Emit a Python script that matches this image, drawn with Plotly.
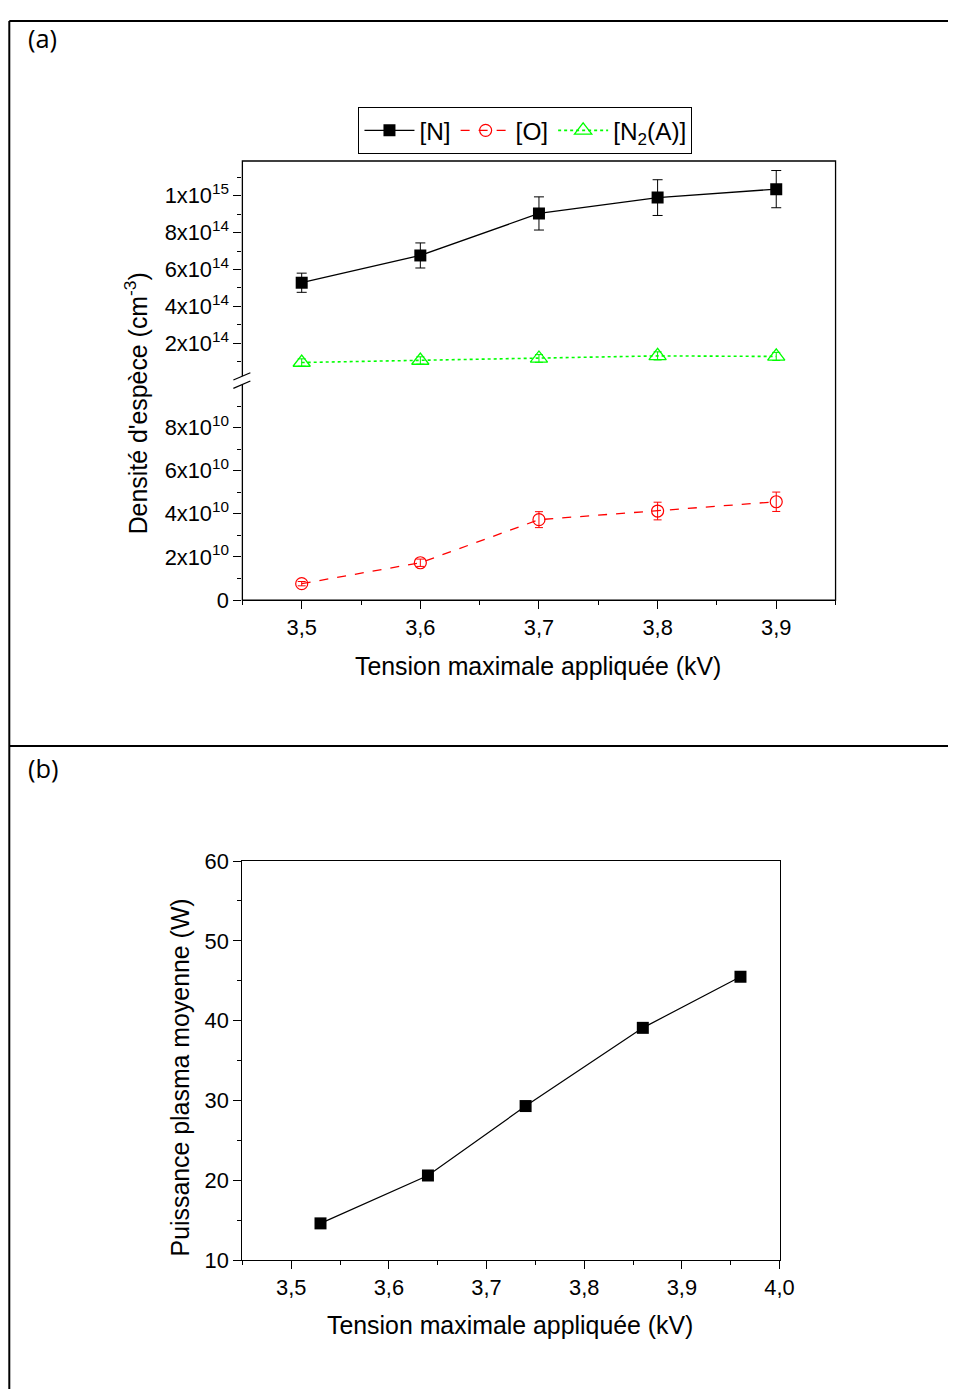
import plotly.graph_objects as go

# ---------------- data ----------------
voltage_a = [3.5, 3.6, 3.7, 3.8, 3.9]
dens_N = [5.28e14, 6.76e14, 9.04e14, 9.90e14, 1.036e15]
err_N = [0.52e14, 0.68e14, 0.90e14, 0.97e14, 1.01e14]
dens_O = [0.76e10, 1.73e10, 3.73e10, 4.13e10, 4.56e10]
err_O = [0.10e10, 0.17e10, 0.37e10, 0.41e10, 0.45e10]
dens_N2A = [0.95e14, 1.06e14, 1.17e14, 1.31e14, 1.28e14]
err_N2A = [0.20e14, 0.20e14, 0.21e14, 0.22e14, 0.22e14]

voltage_b = [3.53, 3.64, 3.74, 3.86, 3.96]
power_b = [14.6, 20.6, 29.3, 39.1, 45.5]

low_tickvals = [0, 2e10, 4e10, 6e10, 8e10]
low_ticktext = ["0", "2x10<sup>10</sup>", "4x10<sup>10</sup>", "6x10<sup>10</sup>", "8x10<sup>10</sup>"]
up_tickvals = [2e14, 4e14, 6e14, 8e14, 1e15]
up_ticktext = ["2x10<sup>14</sup>", "4x10<sup>14</sup>", "6x10<sup>14</sup>", "8x10<sup>14</sup>", "1x10<sup>15</sup>"]

# ---------------- geometry ----------------
W, H = 956, 1394
FONT = "Liberation Sans, Arial, sans-serif"

# page rendering offset/scale compensation (reference px -> figure px)
SX, SY, OX, OY = 0.984, 0.982, 7.7, 20.0


def px(X):
    return min(max((X - OX) / SX, 0), W) / W


def py(Y):
    return 1 - min(max((Y - OY) / SY, 0), H) / H


def fs(size):
    return size / SX


ax_l, ax_r = 242, 835          # panel (a) plot box (reference px)
a_top, a_brk, a_bot = 161, 380, 600
bx_l, bx_r = 242, 779          # panel (b) plot box
b_top, b_bot = 861, 1260

fig = go.Figure()

fig.add_trace(go.Scatter(
    x=voltage_a, y=dens_N, name="[N]", xaxis="x", yaxis="y2",
    mode="lines+markers",
    line=dict(color="black", width=1.3),
    marker=dict(symbol="square", size=12, color="black"),
    error_y=dict(type="data", array=err_N, color="black", thickness=1, width=5),
))
fig.add_trace(go.Scatter(
    x=voltage_a, y=dens_O, name="[O]", xaxis="x", yaxis="y",
    mode="lines+markers",
    line=dict(color="#ff0000", width=1.3, dash="dash"),
    marker=dict(symbol="circle-open", size=12, color="#ff0000", line=dict(width=1.2)),
    error_y=dict(type="data", array=err_O, color="#ff0000", thickness=1, width=4),
))
fig.add_trace(go.Scatter(
    x=voltage_a, y=dens_N2A, name="[N<sub>2</sub>(A)]", xaxis="x", yaxis="y2",
    mode="lines+markers",
    line=dict(color="#00ff00", width=1.6, dash="dot"),
    marker=dict(symbol="triangle-up-open", size=15, color="#00ff00", line=dict(width=1.3)),
    error_y=dict(type="data", array=err_N2A, color="#00ee00", thickness=1, width=4),
))
fig.add_trace(go.Scatter(
    x=voltage_b, y=power_b, name="P", xaxis="x2", yaxis="y3",
    mode="lines+markers", showlegend=False,
    line=dict(color="black", width=1.2),
    marker=dict(symbol="square", size=12, color="black"),
))

tickfont = dict(family=FONT, size=fs(21.5), color="black")
common = dict(ticks="outside", ticklen=8, tickwidth=1.2, tickcolor="black",
              showgrid=False, zeroline=False, tickfont=tickfont)

fig.update_layout(
    width=W, height=H,
    margin=dict(l=0, r=0, t=0, b=0),
    paper_bgcolor="white", plot_bgcolor="white",
    separators=", ",
    font=dict(family=FONT, color="black"),
    showlegend=True,
    legend=dict(orientation="h", x=px(525), y=py(107), xanchor="center", yanchor="top",
                bordercolor="black", borderwidth=1, bgcolor="white",
                font=dict(family=FONT, size=fs(24), color="black"),
                itemwidth=50, tracegroupgap=0),
    xaxis=dict(domain=[px(ax_l), px(ax_r)], anchor="y", range=[3.45, 3.95],
               tick0=3.5, dtick=0.1, tickformat=".1f",
               showline=True, linecolor="black", linewidth=1.3,
               minor=dict(ticks="outside", ticklen=4, tick0=3.45, dtick=0.05,
                          tickcolor="black", tickwidth=1.2),
               **common),
    yaxis=dict(domain=[py(a_bot), py(a_brk)], anchor="x",
               range=[0, (a_bot - a_brk) / 43.1 * 2e10],
               tickmode="array", tickvals=low_tickvals, ticktext=low_ticktext,
               showline=False,
               minor=dict(ticks="outside", ticklen=4, tickmode="linear", tick0=1e10, dtick=2e10,
                          tickcolor="black", tickwidth=1.2),
               **common),
    yaxis2=dict(domain=[py(a_brk), py(a_top)], anchor="x",
                range=[0, (a_brk - a_top) / 36.85 * 2e14],
                tickmode="array", tickvals=up_tickvals, ticktext=up_ticktext,
                showline=False,
                minor=dict(ticks="outside", ticklen=4, tickmode="linear", tick0=1e14, dtick=2e14,
                           tickcolor="black", tickwidth=1.2),
                **common),
    xaxis2=dict(domain=[px(bx_l), px(bx_r)], anchor="y3", range=[3.45, 4.0],
                tick0=3.5, dtick=0.1, tickformat=".1f",
                showline=True, mirror=True, linecolor="black", linewidth=1.3,
                minor=dict(ticks="outside", ticklen=4, tick0=3.45, dtick=0.05,
                           tickcolor="black", tickwidth=1.2),
                **common),
    yaxis3=dict(domain=[py(b_bot), py(b_top)], anchor="x2", range=[10, 60],
                tick0=10, dtick=10,
                showline=True, mirror=True, linecolor="black", linewidth=1.3,
                minor=dict(ticks="outside", ticklen=4, tick0=10, dtick=5,
                           tickcolor="black", tickwidth=1.2),
                **common),
)

shapes = []
# panel (a) frame (continuous across the break)
shapes.append(dict(type="rect", xref="paper", yref="paper",
                   x0=px(ax_l), x1=px(ax_r), y0=py(a_bot), y1=py(a_top),
                   line=dict(color="black", width=1.3), layer="above"))
# break marks on left axis
shapes.append(dict(type="path", xref="paper", yref="paper",
                   path=f"M {px(233)},{py(380)} L {px(250)},{py(372.7)} L {px(250)},{py(381)} L {px(233)},{py(388.3)} Z",
                   fillcolor="white", line=dict(width=0), layer="above"))
for y0, y1 in [(380, 372.7), (388.3, 381)]:
    shapes.append(dict(type="line", xref="paper", yref="paper",
                       x0=px(233), y0=py(y0), x1=px(250), y1=py(y1),
                       line=dict(color="black", width=1.3), layer="above"))
# outer figure frame
top_y = 1 - 1.0 / H
shapes.append(dict(type="line", xref="paper", yref="paper", x0=px(9), x1=1, y0=top_y, y1=top_y,
                   line=dict(color="black", width=2)))
shapes.append(dict(type="line", xref="paper", yref="paper", x0=px(9), x1=px(9), y0=top_y, y1=0,
                   line=dict(color="black", width=2)))
shapes.append(dict(type="line", xref="paper", yref="paper", x0=px(9), x1=1, y0=py(746), y1=py(746),
                   line=dict(color="black", width=2)))
fig.update_layout(shapes=shapes)

title_font = dict(family=FONT, size=fs(24.5), color="black")
lab_font = dict(family="Liberation Sans Narrow, Open Sans, sans-serif", size=fs(25), color="black")
annotations = [
    dict(text="(a)", x=px(26), y=py(38), xanchor="left", yanchor="middle", font=lab_font),
    dict(text="(b)", x=px(26), y=py(768), xanchor="left", yanchor="middle", font=lab_font),
    dict(text="Densité d'espèce (cm<sup>-3</sup>)", x=px(135), y=py(403), textangle=-90,
         xanchor="center", yanchor="middle", font=title_font),
    dict(text="Tension maximale appliquée (kV)", x=px(538), y=py(666),
         xanchor="center", yanchor="middle", font=title_font),
    dict(text="Puissance plasma moyenne (W)", x=px(180), y=py(1077), textangle=-90,
         xanchor="center", yanchor="middle", font=title_font),
    dict(text="Tension maximale appliquée (kV)", x=px(510), y=py(1325),
         xanchor="center", yanchor="middle", font=title_font),
]
for a in annotations:
    a.update(xref="paper", yref="paper", showarrow=False)
fig.update_layout(annotations=annotations)

fig.write_html("out.html")
